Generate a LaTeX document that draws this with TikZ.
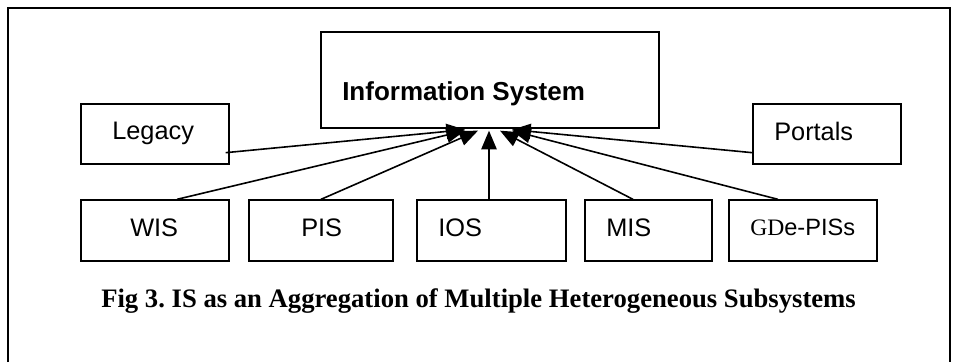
\documentclass[tikz,border=0pt]{standalone}
\usepackage{fontspec}
\setmainfont{Liberation Serif}
\newfontfamily\arialf{Liberation Sans}
\usetikzlibrary{arrows.meta,fit,calc}
\frenchspacing
\begin{document}
\begin{tikzpicture}[x=0.75pt,y=-0.75pt,
  box/.style={draw,line width=1pt,inner sep=0pt},
  lbl/.style={anchor=base west,inner sep=0pt,font=\arialf\fontsize{19}{22}\selectfont},
  conn/.style={line width=1.2pt,-{Triangle[length=14pt,width=11.5pt]}},
  frameline/.style={line width=1.3pt}]
\useasboundingbox (0,0) rectangle (958,362);
\draw[frameline] (8,362) -- (8,8) -- (950,8) -- (950,362);

% boxes
\node[box,fit={(321,32) (659,128)}] (info) {};
\node[box,fit={(81,104) (229,164)}] (legacy) {};
\node[box,fit={(753,104) (901,164)}] (portals) {};
\node[box,fit={(81,200) (229,261)}] (wis) {};
\node[box,fit={(249,200) (393,261)}] (pis) {};
\node[box,fit={(417,200) (566,261)}] (ios) {};
\node[box,fit={(585,200) (712,261)}] (mis) {};
\node[box,fit={(729,200) (877,261)}] (gde) {};

% labels
\node[lbl,font=\arialf\bfseries\fontsize{19.5}{22}\selectfont] (infot) at (342,100) {Information System};
\node[lbl] (legacyt) at (112,139) {Legacy};
\node[lbl] (portalst) at (774,140) {Portals};
\node[lbl] (wist) at (130,236) {WIS};
\node[lbl] (pist) at (301,236) {PIS};
\node[lbl] (iost) at (438,236) {IOS};
\node[lbl] (mist) at (606,236) {MIS};
\node[lbl,font=\arialf\fontsize{17.7}{21}\selectfont] (gdet) at (750,235) {{\rmfamily GD}e-PISs};

% connectors
\draw[conn] ($(legacy.south east)+(-4,-12)$) -- ($(info.south)+(-25,1)$);
\draw[conn] ($(wis.north)+(22,0)$) -- ($(info.south)+(-25,2)$);
\draw[conn] (pis.north) -- ($(info.south)+(-12,2)$);
\draw[conn] ($(ios.north)+(-2.5,0)$) -- ($(info.south)+(-1,2)$);
\draw[conn] ($(mis.north)+(-15.5,0)$) -- ($(info.south)+(10,2)$);
\draw[conn] ($(gde.north)+(-25,0)$) -- ($(info.south)+(22,2)$);
\draw[conn] ($(portals.south west)+(0,-12)$) -- ($(info.south)+(22,1)$);

% caption
\node[anchor=base west,inner sep=0pt,font=\bfseries\fontsize{20}{24}\selectfont] (cap) at (101,307) {Fig 3. IS as an Aggregation of Multiple Heterogeneous Subsystems};
\end{tikzpicture}
\end{document}
